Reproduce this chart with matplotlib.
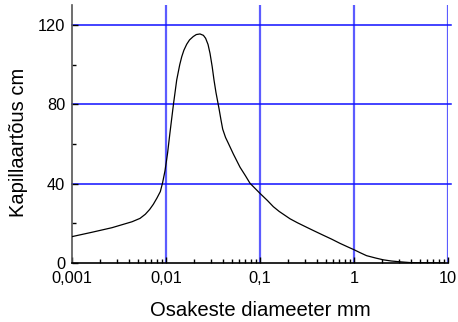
import matplotlib
matplotlib.use("Agg")
import matplotlib.pyplot as plt
from matplotlib.ticker import FixedLocator, LogLocator, NullFormatter

plt.rcParams['font.family'] = ['Liberation Sans', 'DejaVu Sans']

# Data
diameter_mm = [0.001, 0.00163, 0.00266, 0.00435, 0.00529, 0.00603, 0.0067, 0.00733,
               0.0080, 0.0087, 0.0092, 0.00976, 0.0104, 0.0110, 0.0120, 0.0130,
               0.0140, 0.0147, 0.0155, 0.0166, 0.0178, 0.0195, 0.0210, 0.0230,
               0.0250, 0.0264, 0.0280, 0.0294, 0.0310, 0.0324, 0.0340, 0.0366,
               0.0385, 0.0401, 0.0430, 0.0460, 0.0520, 0.0613, 0.0700, 0.0783,
               0.100, 0.120, 0.1386, 0.160, 0.2085, 0.250, 0.314, 0.380, 0.471,
               0.580, 0.71, 0.85, 1.0, 1.15, 1.36, 1.70, 2.05, 2.50, 3.09, 3.98, 9.0]
capillary_cm = [13.3, 15.5, 17.8, 20.8, 22.5, 24.6, 27.0, 29.6,
                32.7, 36.0, 40.5, 46.5, 55.5, 65.4, 80.0, 92.3,
                100.0, 104.0, 107.3, 110.3, 112.5, 114.2, 115.2, 115.5,
                114.8, 113.3, 110.2, 105.7, 99.0, 92.3, 86.0, 78.0,
                72.0, 67.5, 63.3, 60.4, 55.0, 48.3, 44.0, 40.2,
                35.1, 31.5, 28.4, 26.0, 22.3, 20.3, 18.0, 16.1, 14.0,
                12.0, 9.9, 8.2, 6.7, 5.3, 3.7, 2.5, 1.6, 1.0, 0.6, 0.2, 0.0]

x_major = [0.001, 0.01, 0.1, 1, 10]
x_labels = ['0,001', '0,01', '0,1', '1', '10']
y_major = [0, 40, 80, 120]
y_minor = [20, 60, 100]

fig = plt.figure(figsize=(4.58, 3.22), dpi=100)
ax = fig.add_axes([72/458, 59/322, 376/458, 257.8/322])

ax.set_xscale('log')
ax.set_xlim(0.001, 10)
ax.set_ylim(0, 130)

# grid lines
for xv in x_major[1:]:
    ax.axvline(xv, color='#5c5cff', lw=1.6, zorder=1)
for yv in y_major[1:]:
    ax.axhline(yv, xmin=0, xmax=1.009, color='#1010ff', lw=1.1, zorder=1, clip_on=False)

ax.plot(diameter_mm, capillary_cm, color='black', lw=0.9, zorder=3)

for s in ['top', 'right']:
    ax.spines[s].set_visible(False)
ax.spines['left'].set_color('#555555')
ax.spines['left'].set_linewidth(1.2)
ax.spines['bottom'].set_color('black')
ax.spines['bottom'].set_linewidth(1.2)

ax.xaxis.set_major_locator(FixedLocator(x_major))
ax.set_xticklabels(x_labels)
ax.xaxis.set_minor_locator(LogLocator(base=10, subs=range(2, 10)))
ax.xaxis.set_minor_formatter(NullFormatter())
ax.yaxis.set_major_locator(FixedLocator(y_major))
ax.yaxis.set_minor_locator(FixedLocator(y_minor))

ax.tick_params(axis='both', which='major', direction='in', length=4, width=1,
               labelsize=11.8, color='black')
ax.tick_params(axis='both', which='minor', direction='in', length=3, width=1,
               color='black')
ax.tick_params(axis='x', which='major', pad=5.5)
ax.tick_params(axis='y', which='major', pad=5)

ax.set_xlabel('Osakeste diameeter mm', fontsize=14.6)
ax.set_ylabel('Kapillaartõus cm', fontsize=14.5)
ax.xaxis.set_label_coords(0.5, -0.148)
ax.yaxis.set_label_coords(-0.118, 0.467)

fig.savefig('out.png', dpi=100)
